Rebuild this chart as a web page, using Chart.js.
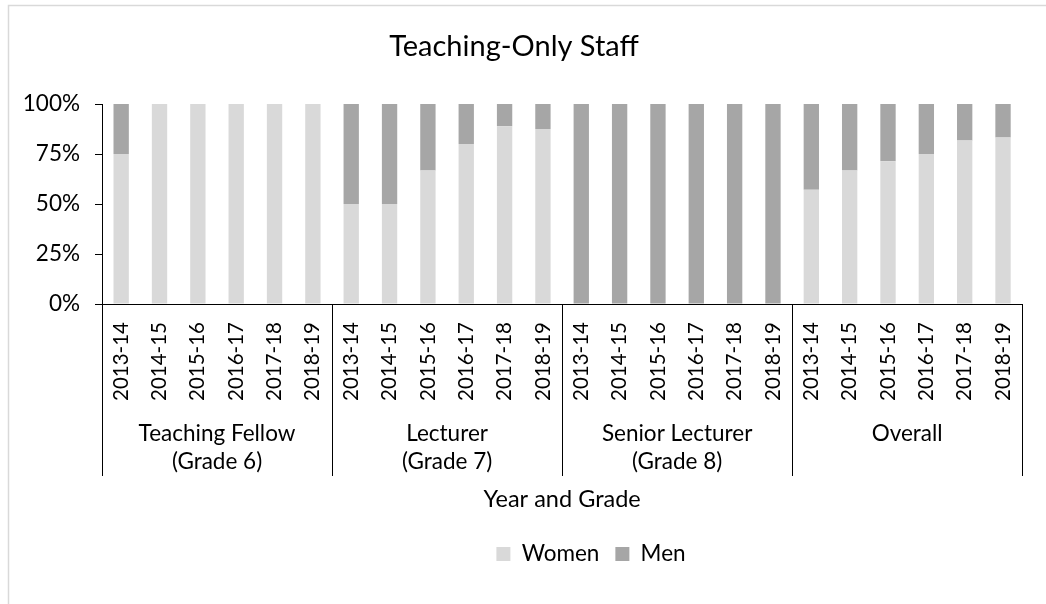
<!DOCTYPE html>
<html>
<head>
<meta charset="utf-8">
<script src="https://cdn.jsdelivr.net/npm/chart.js@4.4.0/dist/chart.umd.min.js"></script>
<style>
  html, body { margin: 0; padding: 0; background: #fff; }
  #wrap { width: 1046px; height: 604px; position: relative; }
</style>
</head>
<body>
<div id="wrap"><canvas id="c" width="1046" height="604"></canvas></div>
<script>
// ---- Data ----
const chartTitle = 'Teaching-Only Staff';
const axisTitle = 'Year and Grade';
const years = ['2013-14', '2014-15', '2015-16', '2016-17', '2017-18', '2018-19'];
const groups = [
  ['Teaching Fellow', '(Grade 6)'],
  ['Lecturer', '(Grade 7)'],
  ['Senior Lecturer', '(Grade 8)'],
  ['Overall']
];
const womenTeachingFellow = [75, 100, 100, 100, 100, 100];
const menTeachingFellow   = [25, 0, 0, 0, 0, 0];
const womenLecturer       = [50, 50, 66.7, 80, 88.9, 87.5];
const menLecturer         = [50, 50, 33.3, 20, 11.1, 12.5];
const womenSeniorLecturer = [0, 0, 0, 0, 0, 0];
const menSeniorLecturer   = [100, 100, 100, 100, 100, 100];
const womenOverall        = [57.1, 66.7, 71.4, 75, 81.8, 83.3];
const menOverall          = [42.9, 33.3, 28.6, 25, 18.2, 16.7];
const yTicks = [0, 25, 50, 75, 100];

const labels = [].concat(years, years, years, years);
const women = [].concat(womenTeachingFellow, womenLecturer, womenSeniorLecturer, womenOverall);
const men = [].concat(menTeachingFellow, menLecturer, menSeniorLecturer, menOverall);

const FONT = 'Lato, "Open Sans", sans-serif';

const borderPlugin = {
  id: 'outerBorder',
  beforeDraw(chart) {
    const ctx = chart.ctx;
    ctx.save();
    ctx.fillStyle = '#fff';
    ctx.fillRect(0, 0, chart.width, chart.height);
    ctx.strokeStyle = '#D9D9D9';
    ctx.lineWidth = 1.5;
    ctx.beginPath();
    ctx.moveTo(8.5, chart.height + 5);
    ctx.lineTo(8.5, 5.5);
    ctx.lineTo(chart.width + 5, 5.5);
    ctx.stroke();
    ctx.restore();
  }
};

// shift legend to the right, as in the reference
const legendShift = {
  id: 'legendShift',
  afterLayout(chart) {
    if (chart.legend) {
      chart.legend.left += 77;
      chart.legend.right += 77;
    }
  }
};

const groupPlugin = {
  id: 'groupAxis',
  afterDraw(chart) {
    const xs = chart.scales.x;
    const ctx = chart.ctx;
    const n = labels.length;
    const step = xs.width / n;
    const y0 = xs.top;
    ctx.save();
    ctx.strokeStyle = '#000';
    ctx.lineWidth = 1;
    ctx.beginPath();
    for (let g = 0; g <= groups.length; g++) {
      const x = Math.round(xs.left + g * years.length * step) + 0.5;
      ctx.moveTo(x, y0);
      ctx.lineTo(x, 476);
    }
    ctx.stroke();
    ctx.fillStyle = '#000';
    ctx.font = '22.5px ' + FONT;
    ctx.textAlign = 'center';
    ctx.textBaseline = 'middle';
    groups.forEach((lines, g) => {
      const cx = xs.left + (g * years.length + years.length / 2) * step;
      lines.forEach((t, i) => ctx.fillText(t, cx, 434 + i * 28));
    });
    ctx.restore();
  }
};

new Chart(document.getElementById('c'), {
  type: 'bar',
  data: {
    labels: labels,
    datasets: [
      { label: 'Women', data: women, backgroundColor: '#D9D9D9', categoryPercentage: 1, barPercentage: 0.4 },
      { label: 'Men', data: men, backgroundColor: '#A6A6A6', categoryPercentage: 1, barPercentage: 0.4 }
    ]
  },
  options: {
    responsive: false,
    animation: false,
    devicePixelRatio: 1,
    layout: { padding: { left: 0, right: 18, top: 0, bottom: 28.75 } },
    plugins: {
      tooltip: { enabled: false },
      title: {
        display: true,
        text: chartTitle,
        color: '#000',
        font: { family: FONT, size: 29, weight: 'normal' },
        padding: { top: 29.6, bottom: 39.6 }
      },
      legend: {
        display: true,
        position: 'bottom',
        labels: {
          color: '#000',
          font: { family: FONT, size: 22.5 },
          boxWidth: 14,
          boxHeight: 14,
          padding: 16
        }
      }
    },
    scales: {
      x: {
        stacked: true,
        afterFit(scale) { scale.height = 222.75; },
        grid: { display: false, drawTicks: false },
        border: { display: true, color: '#000', width: 1 },
        ticks: {
          autoSkip: false,
          minRotation: 90,
          maxRotation: 90,
          padding: 18,
          color: '#000',
          font: { family: FONT, size: 20.5 }
        },
        title: {
          display: true,
          text: axisTitle,
          color: '#000',
          font: { family: FONT, size: 23.5 },
          padding: { top: 0, bottom: 13.65 }
        }
      },
      y: {
        stacked: true,
        min: 0,
        max: 100,
        afterFit(scale) { scale.width = 102; },
        afterBuildTicks(scale) { scale.ticks = yTicks.map(v => ({ value: v })); },
        grid: { drawOnChartArea: false, drawTicks: true, tickLength: 7, tickColor: '#000' },
        border: { display: true, color: '#000', width: 1 },
        ticks: {
          padding: 15,
          color: '#000',
          font: { family: FONT, size: 22.5 },
          callback: v => v + '%'
        }
      }
    }
  },
  plugins: [borderPlugin, legendShift, groupPlugin]
});
</script>
</body>
</html>
